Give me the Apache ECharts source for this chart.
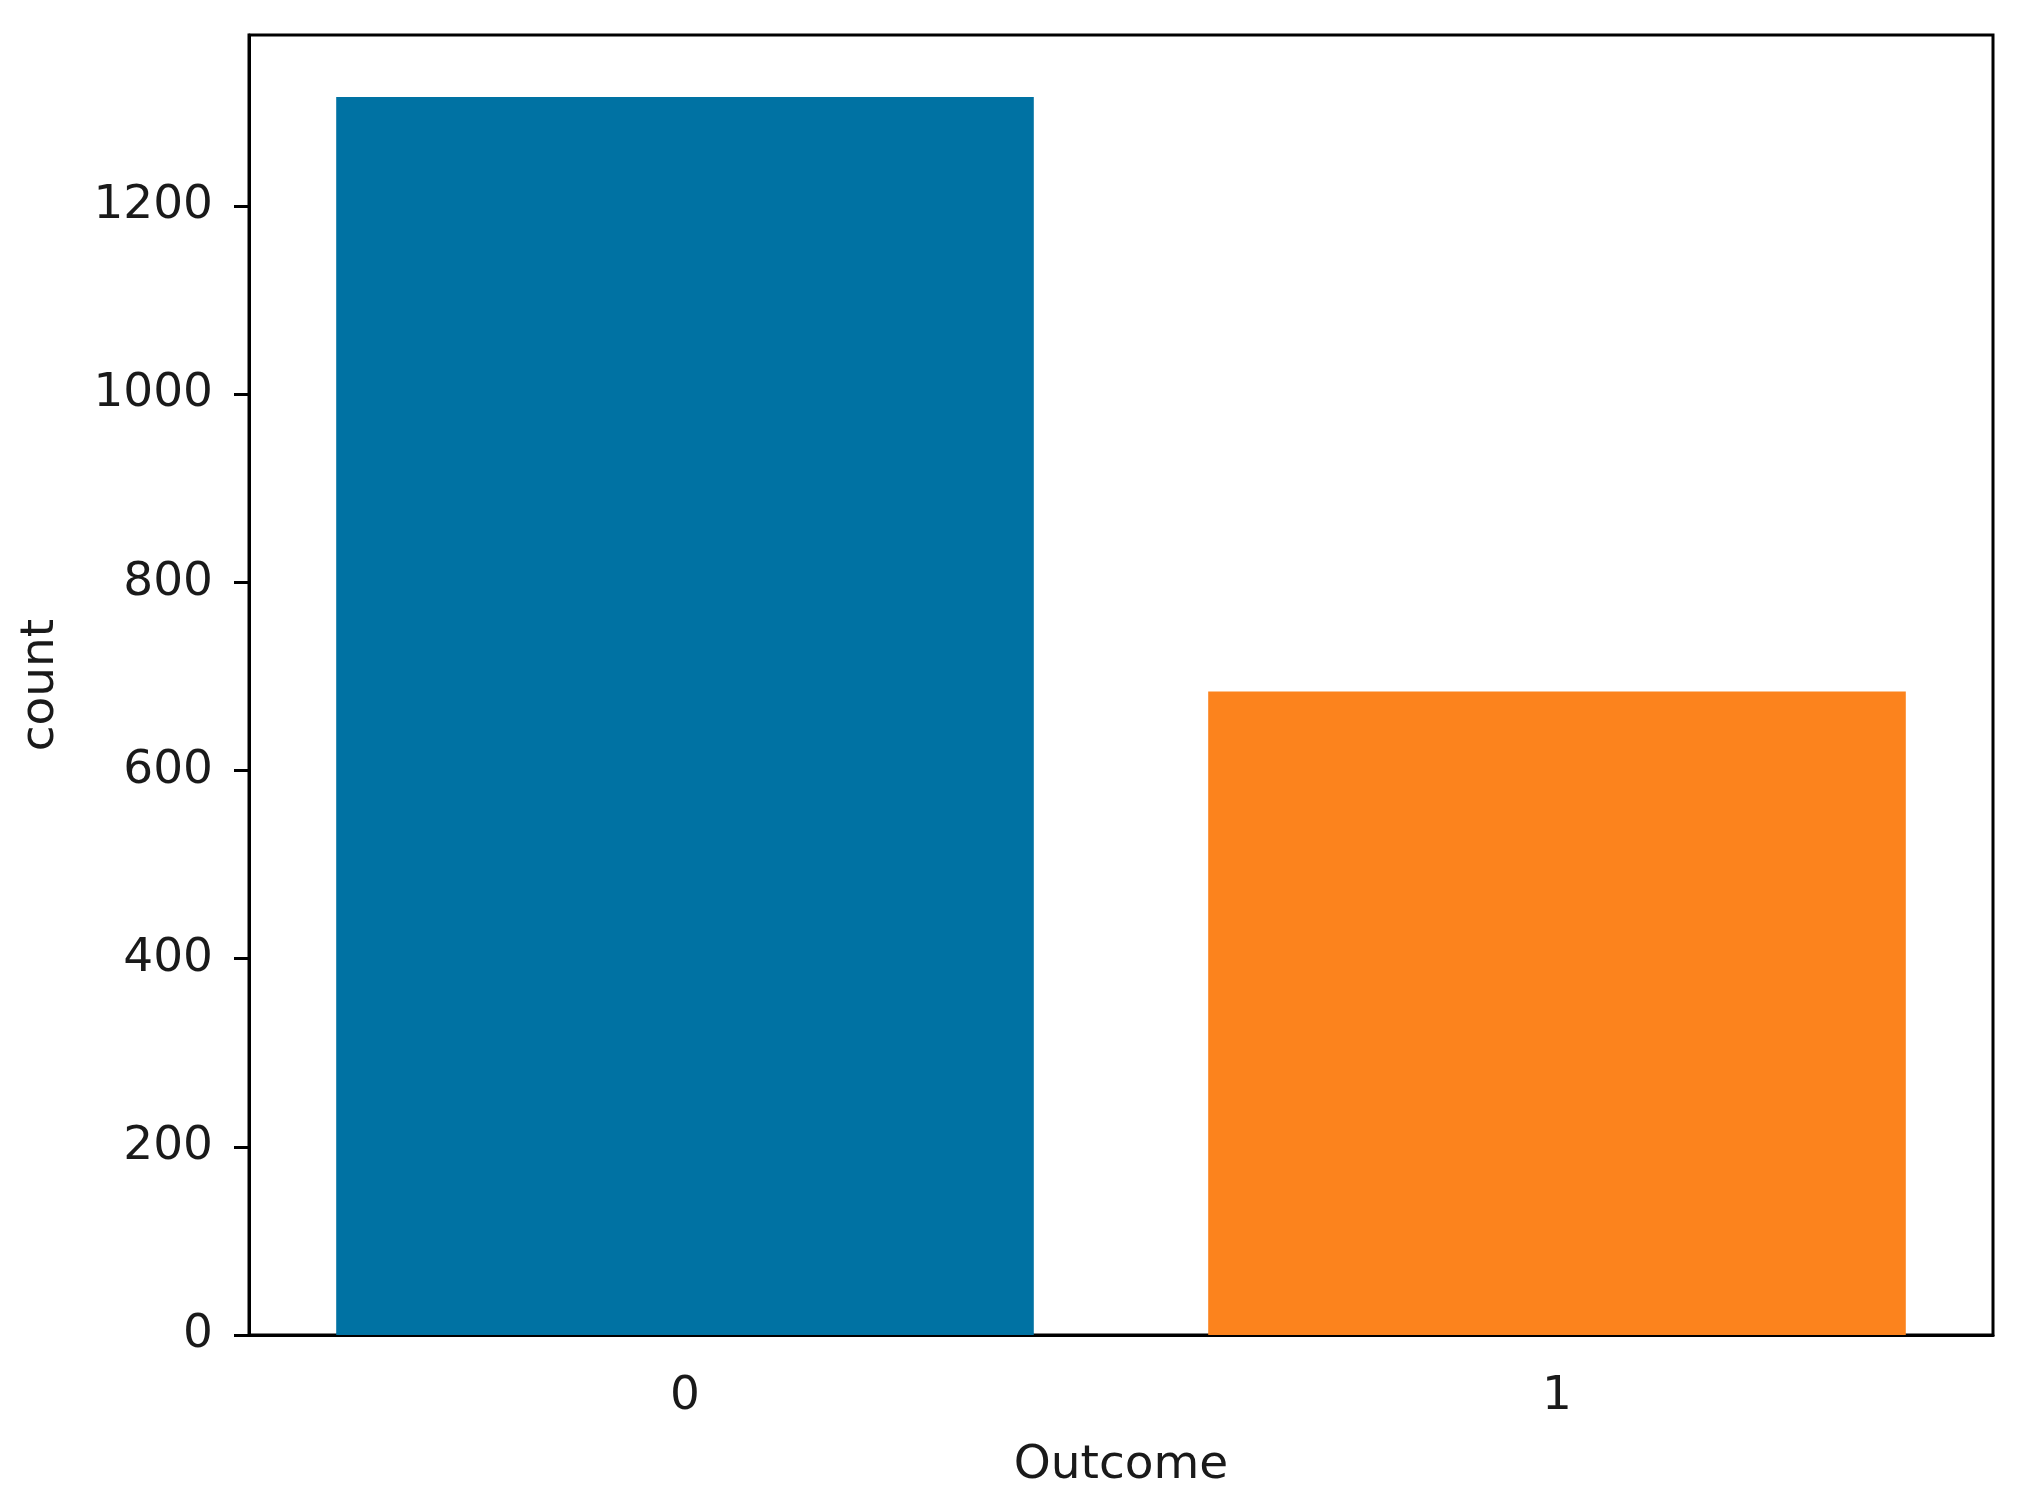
<!DOCTYPE html>
<html>
<head>
<meta charset="utf-8">
<script src="https://cdn.jsdelivr.net/npm/echarts@6/dist/echarts.min.js"></script>
<style>
  html, body { margin: 0; padding: 0; background: #fff; }
  .box { width: 2022px; height: 1507px; }
</style>
</head>
<body>
<div class="box"></div>
<script>
// 数据
var categories = ["0", "1"];
var counts = [1316, 684];
var barColors = ["#0072a3", "#fc831d"];
var yTicks = [0, 200, 400, 600, 800, 1000, 1200];

(function () {
    var myChart = echarts.init(document.querySelector(".box"));
    var font = "DejaVu Sans";

    var option = {
        animation: false,
        grid: {
            left: 249,
            right: 29,
            top: 35,
            bottom: 172,
            show: true,
            borderColor: "#000",
            borderWidth: 3,
            backgroundColor: "transparent"
        },
        xAxis: {
            type: "category",
            data: categories,
            name: "Outcome",
            nameLocation: "middle",
            nameGap: 107,
            nameTextStyle: { fontFamily: font, fontSize: 47, color: "#1a1a1a" },
            axisLine: { lineStyle: { color: "#000", width: 3 } },
            axisTick: { alignWithLabel: true, length: 15, lineStyle: { color: "#000", width: 3 } },
            axisLabel: { fontFamily: font, fontSize: 47, color: "#1a1a1a", margin: 38 },
            splitLine: { show: false }
        },
        yAxis: {
            type: "value",
            min: 0,
            max: 1381.8,
            interval: 200,
            name: "count",
            nameLocation: "middle",
            nameGap: 185,
            nameTextStyle: { fontFamily: font, fontSize: 47, color: "#1a1a1a" },
            axisLine: { show: true, lineStyle: { color: "#000", width: 3 } },
            axisTick: { show: true, length: 15, lineStyle: { color: "#000", width: 3 } },
            axisLabel: {
                fontFamily: font, fontSize: 47, color: "#1a1a1a", margin: 36,
                showMaxLabel: false,
                formatter: function (v) { return yTicks.indexOf(v) >= 0 ? String(v) : ""; }
            },
            splitLine: { show: false }
        },
        series: [
            {
                type: "bar",
                barCategoryGap: "20%",
                data: counts.map(function (v, i) {
                    return { value: v, itemStyle: { color: barColors[i] } };
                })
            }
        ]
    };

    myChart.setOption(option);

    window.addEventListener("resize", function () {
        myChart.resize();
    });
})();
</script>
</body>
</html>
